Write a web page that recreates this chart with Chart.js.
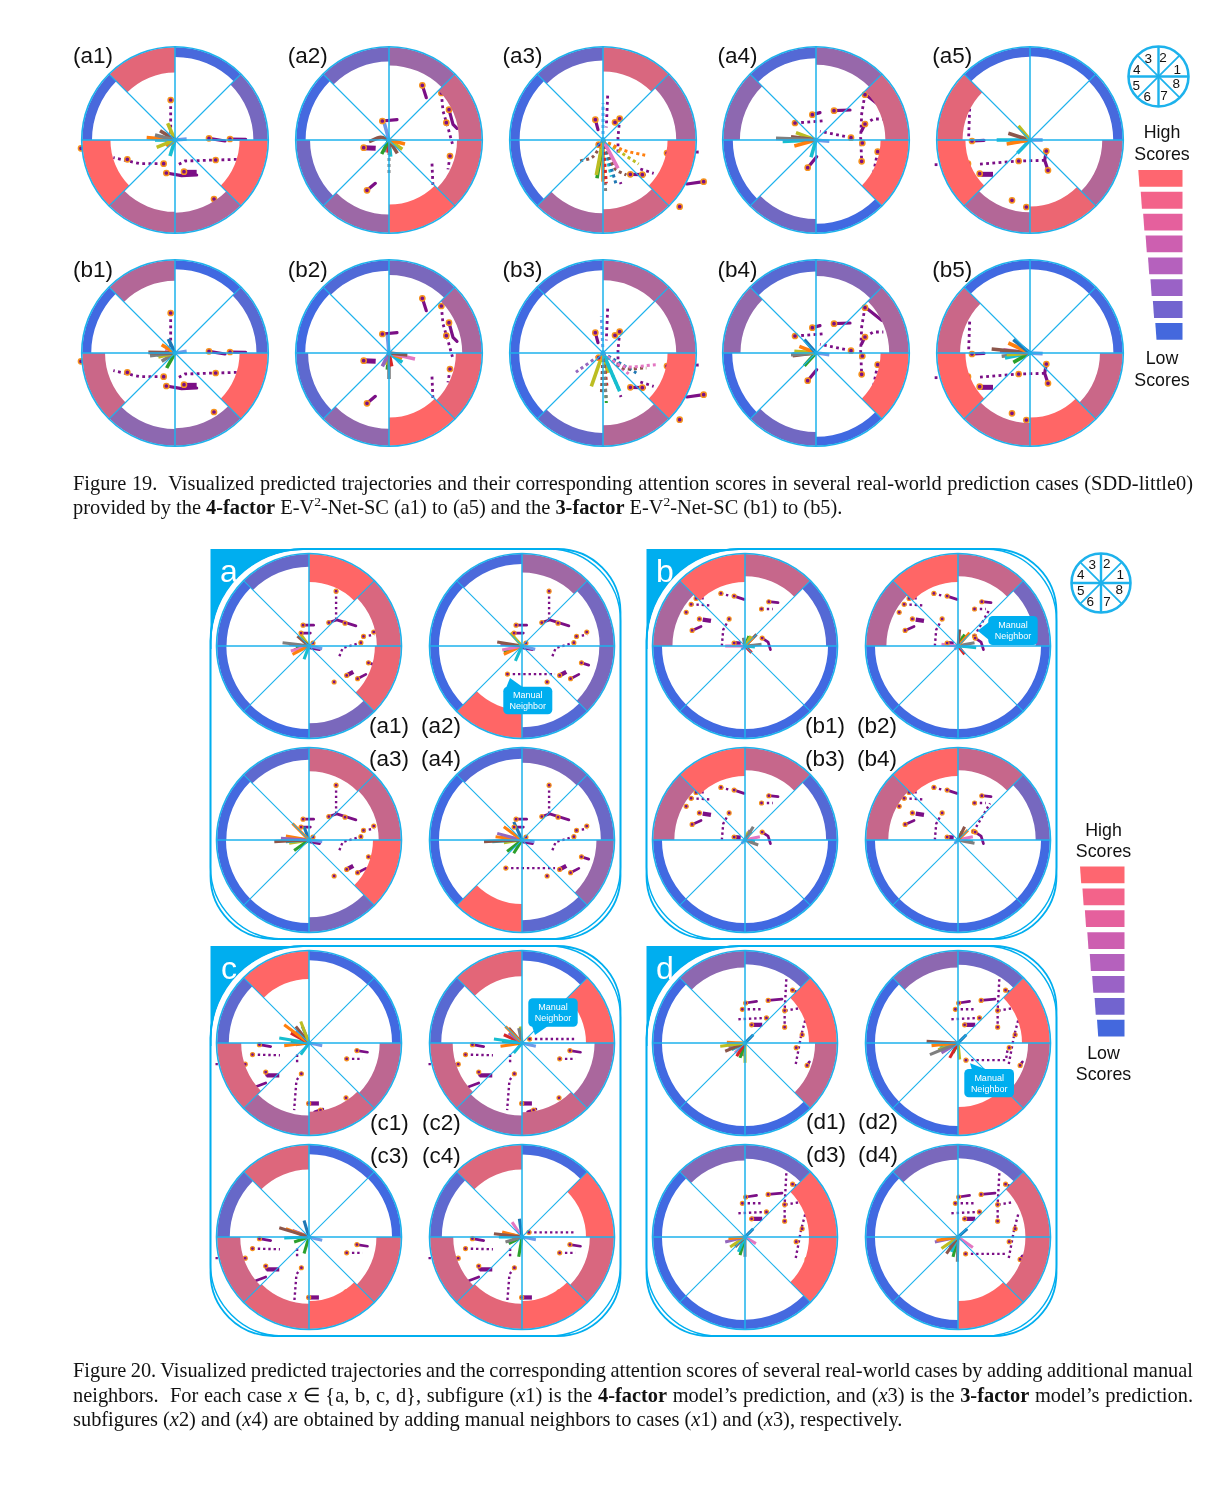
<!DOCTYPE html>
<html><head><meta charset="utf-8">
<script src="https://cdn.jsdelivr.net/npm/chart.js@4"></script>
<style>
html,body{margin:0;padding:0;background:#fff;}
#page{position:relative;width:1231px;height:1494px;overflow:hidden;background:#fff;font-family:"Liberation Sans",Arial,sans-serif;color:#111;}
#page canvas{position:absolute;z-index:2;}
svg{position:absolute;left:0;top:0;}
.t{position:absolute;white-space:nowrap;z-index:4;line-height:1;}
.cap{position:absolute;left:73px;width:1120px;font-family:"Liberation Serif",serif;font-size:20.4px;line-height:24px;white-space:nowrap;color:#111;z-index:4;}
.cap.j{text-align:justify;text-align-last:justify;white-space:normal;word-spacing:-1.2px;}
.cap sup{font-size:13.5px;line-height:0;}
</style></head><body><div id="page"></div>
<script>
/* ---------- sector scores, sectors 1..8 (0 = low, 1 = high) ---------- */
const s19_a1=[.28,.04,.85,.04,1,.62,.58,1];
const s19_a2=[.72,.48,.27,.02,.25,.48,1,.82];
const s19_a3=[.55,.8,.22,.02,.02,.55,.75,1];
const s19_a4=[.75,.45,.1,.4,.03,.25,0,1];
const s19_a5=[.03,0,.03,.85,1,.6,.9,.6];
const s19_b1=[.12,0,.6,0,.72,.4,.45,1];
const s19_b2=[.55,.3,.08,0,.15,.42,1,.88];
const s19_b3=[.55,.58,.05,0,0,.2,.6,1];
const s19_b4=[.55,.35,.12,.43,0,.25,0,1];
const s19_b5=[.02,0,0,.72,1,.72,1,.72];
const s20_a1=[.8,1,.2,.03,.02,0,.3,.9];
const s20_a2=[.28,.5,.05,0,0,1,.1,.3];
const s20_a3=[.7,.75,.15,.02,0,0,.3,1];
const s20_a4=[.22,.3,.1,0,0,1,.15,.45];
const s20_b1=[.1,.7,1,.55,0,0,0,0];
const s20_b2=[.28,.7,1,.6,0,0,0,0];
const s20_b3=[.1,.7,1,.65,0,0,0,0];
const s20_b4=[.28,.7,1,.7,0,0,0,0];
const s20_c1=[0,.02,1,.15,.8,.55,.75,.65];
const s20_c2=[1,.03,.85,.12,.72,.55,.72,.55];
const s20_c3=[0,.02,.82,.2,.75,.85,1,.82];
const s20_c4=[1,.03,.82,.15,.75,.85,1,.8];
const s20_d1=[1,.22,.4,0,0,0,0,.68];
const s20_d2=[1,.25,.4,0,0,0,1,.68];
const s20_d3=[1,.25,.35,0,0,0,.02,1];
const s20_d4=[.82,.22,.3,0,0,0,1,.82];

/* ---------- neighbour trajectories per scene (x right, y down, rim = 280) ---------- */
const n1_dotted=[[[-13,-120],[-13,-12]],[[-34,71],[-105,71],[-185,53]],[[185,58],[122,60],[30,63],[5,76]]];
const n1_solid=[[[102,-5],[150,3]],[[165,-3],[212,-2]],[[-26,99],[20,107],[65,105]]];
const n1_thick=[[[27,97],[65,97]]];
const n1_marks=[[-13,-120],[102,-5],[165,-3],[-34,71],[-143,58],[122,60],[-26,99],[27,95],[117,177],[-282,25]];

const n2_dotted=[[[157,-141],[162,-87],[177,-37],[192,18]],[[183,48],[177,88]],[[129,71],[132,143]]];
const n2_solid=[[[-20,-57],[24,-61]],[[100,-164],[112,-127]],[[180,-91],[192,-47],[204,-35]],[[-66,151],[-41,130]]];
const n2_thick=[[[-76,23],[-40,25]]];
const n2_marks=[[-20,-57],[100,-164],[157,-141],[180,-91],[172,-52],[183,48],[-66,151],[-76,23]];

const n3_dotted=[[[14,-133],[10,-38]],[[50,-64],[45,-8],[45,40]],[[287,36],[270,37]],[[112,87],[152,100]],[[52,127],[54,132]]];
const n3_solid=[[[-23,-61],[-15,-31]],[[302,125],[252,132]],[[82,103],[124,104]]];
const n3_thick=[];
const n3_marks=[[-23,-61],[36,-53],[50,-64],[-13,14],[192,39],[302,125],[230,200],[82,103],[118,104]];

const n4_dotted=[[[-63,-51],[27,-58]],[[105,-7],[12,-26]],[[147,-138],[137,-78],[134,-8],[137,64]],[[147,-48],[172,-63],[202,-63]],[[185,35],[172,102]]];
const n4_solid=[[[-11,-76],[12,-82]],[[54,-88],[102,-90]],[[150,-136],[197,-98]],[[147,-48],[137,-28]],[[-25,83],[2,50]]];
const n4_thick=[];
const n4_marks=[[-11,-76],[-63,-51],[54,-88],[105,-7],[147,-136],[147,-48],[139,9],[137,64],[-25,83],[185,35]];

const n5_dotted=[[[-181,-94],[-184,-9],[-174,3]],[[44,61],[-34,63],[-156,73]],[[-286,74],[-275,74]]];
const n5_solid=[[[-174,3],[-138,1]],[[49,33],[44,61],[54,91]]];
const n5_thick=[[[-151,103],[-111,103]]];
const n5_marks=[[-174,3],[-34,63],[-186,71],[-151,101],[49,33],[54,91],[-54,181],[-11,201]];

const na_dotted=[[[82,-166],[82,-79]],[[92,31],[102,6],[157,-10]],[[165,-29],[197,-34]]];
const na_solid=[[[60,-71],[84,-79],[142,-61]],[[-18,-63],[14,-63]],[[-24,-39],[4,-39]],[[147,99],[172,86]],[[180,51],[202,58]],[[2,6],[32,11]]];
const na_thick=[[[114,89],[134,78]]];
const na_marks=[[82,-166],[60,-71],[109,-69],[-18,-63],[-24,-39],[157,-10],[165,-29],[196,-42],[180,51],[114,89],[147,99],[76,109],[12,-9]];

const nb_dotted=[[[-73,-159],[-43,-151]],[[-163,-126],[-106,-123]],[[-148,-144],[-123,-144]],[[-48,-82],[-66,-49],[-70,-1]],[[50,-112],[84,-112]]];
const nb_solid=[[[-33,-151],[-3,-141]],[[-160,-47],[-133,-59]],[[72,-134],[100,-131]],[[52,-24],[70,-12],[77,11]]];
const nb_thick=[[[-128,-80],[-103,-76]],[[-33,-9],[-13,-7]]];
const nb_marks=[[-73,-159],[-33,-151],[-163,-126],[-148,-144],[-178,-102],[-138,-82],[-160,-47],[-48,-82],[72,-134],[50,-112],[52,-24],[-33,-9]];

const nc_dotted=[[[-171,35],[-88,37]],[[-283,64],[-193,64]],[[-23,93],[-38,113],[-45,203]],[[-36,35],[-36,63]],[[114,48],[162,48]]];
const nc_solid=[[[-150,5],[-116,11]],[[-131,88],[-128,98]],[[-163,133],[-131,121]],[[145,23],[177,28]],[[17,208],[42,200]]];
const nc_thick=[[[-128,98],[-90,98]],[[-1,183],[30,183]]];
const nc_marks=[[-150,5],[-171,35],[-193,64],[-131,88],[-23,93],[145,23],[114,48],[112,166],[-1,183],[35,203]];

const nd_dotted=[[[-8,-102],[48,-102]],[[-20,-72],[65,-76]],[[125,-193],[120,-98],[120,-48]],[[122,-98],[165,-105]],[[182,-68],[170,-23],[153,67]]];
const nd_solid=[[[2,-121],[35,-126]],[[70,-129],[112,-133]],[[144,-160],[160,-153]],[[188,68],[195,57]]];
const nd_thick=[[[20,-55],[52,-55]]];
const nd_marks=[[2,-121],[70,-129],[-8,-102],[65,-76],[20,-55],[120,-98],[120,-48],[144,-160],[173,-25],[155,14],[188,68]];

/* manual neighbours added in the x2 / x4 sub-figures */
const man_a2=[[-44,85],[100,85]];const man_a4=[[-49,85],[100,85]];
const man_b2=[[50,-30],[96,-112]];const man_b4=[[47,-26],[97,-111]];
const man_c2=[[23,-12],[165,-12]];const man_c4=[[21,-14],[160,-14]];
const man_d2=[[24,52],[145,52],[150,20]];const man_d4=[[23,51],[150,51]];

/* ---------- predicted ego fan: [colour, x, y, dotted, midX, midY] ---------- */
const e19_a1=[[7,-60,-15],[5,-45,-28],[8,-22,-50],[8,-55,22],[1,-85,-7],[1,-25,20],[9,-15,48],[10,35,-3],[9,-60,0],[6,-30,5]];
const e19_a2=[[10,-14,-50],[5,-60,5,0,-25,-8],[1,48,12],[8,40,28],[5,25,40],[2,-22,42],[3,-3,38],[7,0,100,1],[9,5,50],[4,-15,35]];
const e19_a3=[[10,0,-110,1],[1,132,47,1,60,30],[8,107,72,1,50,35],[5,-73,64,1,-30,50],[8,-20,105],[2,-18,115],[6,45,85],[5,70,105,1,35,85],[0,40,135,1],[3,10,130,1],[7,8,155,1],[1,0,125],[9,25,110,1]];
const e19_a4=[[7,-120,-5],[5,-75,-10],[8,-60,-22],[1,-65,18],[9,-100,4],[9,-15,52],[10,40,4]];
const e19_a5=[[8,-35,-42],[5,-65,-20],[1,-70,12],[9,-100,0],[9,-38,40],[10,38,0],[7,-60,8]];
const e19_b1=[[0,-20,-42],[1,-40,-25],[5,-80,-2],[7,-75,8],[8,-50,12],[2,-25,45],[7,-40,25],[10,35,-5],[9,-55,6],[6,-30,-8]];
const e19_b2=[[10,-5,-55],[5,55,6],[6,78,18],[1,40,15],[9,40,28],[3,8,40],[4,-20,40],[7,0,78],[8,-10,35],[2,-5,50]];
const e19_b3=[[10,-5,-110,1],[6,160,35,1,60,40],[5,130,45,1,60,45],[0,100,60,1],[6,80,65,1],[4,-85,60,1],[8,-35,100],[5,-5,125,1],[7,10,140,1],[2,10,150,1],[9,50,115],[3,12,100,1],[0,50,115,1],[8,15,60]];
const e19_b4=[[0,-35,-40],[1,-50,-20],[8,-65,-5],[7,-75,5],[5,-70,8],[2,-35,38],[10,40,5],[9,-70,3],[4,-60,0]];
const e19_b5=[[0,-50,-40],[1,-65,-30],[5,-115,-12],[4,-90,-5],[8,-70,5],[2,-50,28],[9,-75,15],[10,38,2],[7,-85,10],[6,-80,-10]];
const e20_a1=[[7,-80,-10],[5,-35,-30],[8,-25,-35],[4,-60,-5],[1,-50,25],[6,-55,15],[10,40,8],[2,-40,5],[3,-45,12],[9,-15,40]];
const e20_a2=[[8,-35,-40],[5,-75,-12],[4,-65,-5],[6,-60,12],[1,-55,25],[2,-55,18],[10,40,10],[3,-30,8],[9,-20,45]];
const e20_a3=[[1,-50,-50],[0,-15,-40],[4,-85,-5],[5,-105,5],[2,-45,32],[9,-70,5],[1,-70,-12],[8,-60,10],[10,40,5],[6,-60,-5]];
const e20_a4=[[0,-25,-55],[1,-55,-40],[4,-75,-20],[1,-80,-10],[5,-115,5],[9,-90,5],[2,-45,35],[2,-25,40],[10,38,5],[8,-55,8]];
const e20_b1=[[8,18,-30],[1,25,-25],[2,12,-30],[7,-5,-25],[5,35,-35],[6,-60,0],[7,50,-5],[9,30,3],[10,-10,10],[3,20,20]];
const e20_b2=[[5,5,-50],[1,35,-40],[2,20,-35],[8,15,-30],[7,50,-10],[6,-50,-5],[9,55,5],[10,-10,10],[3,20,25]];
const e20_b3=[[7,25,-40],[1,20,-25],[8,10,-25],[6,45,-10],[7,40,15],[9,30,5],[10,-10,10],[4,15,-30]];
const e20_b4=[[5,20,-40],[1,30,-30],[2,12,-25],[6,45,-10],[7,50,10],[9,45,5],[10,-10,10]];
const e20_c1=[[8,-25,-65],[5,-40,-50],[1,-75,-55],[0,-20,-50],[3,-55,-30],[4,-40,-35],[9,-90,-15],[2,-55,-5],[1,-75,8],[7,-40,5],[10,40,8],[9,-25,35]];
const e20_c2=[[1,-50,-50],[5,-40,-45],[7,-10,-45],[8,-5,-50],[4,-40,-30],[9,-85,-12],[2,-60,-5],[1,-65,10],[10,42,10],[9,-25,30],[3,-55,-25]];
const e20_c3=[[0,-15,-50],[5,-90,-28],[1,-70,-25],[4,-50,-20],[6,-40,-15],[9,-75,3],[2,-45,15],[2,-15,50],[10,40,10],[8,-30,-10]];
const e20_c4=[[0,-8,-55],[5,-85,-10],[1,-60,-15],[7,-50,15],[4,-50,-10],[2,-10,60],[9,-70,0],[10,42,8],[6,-30,-45],[8,-30,5],[2,-40,20]];
const e20_d1=[[8,-75,10],[5,-60,25],[1,-55,-2],[4,-50,12],[9,-40,20],[3,-25,40],[2,-15,45],[6,-30,30],[8,0,60],[7,-5,40],[0,25,-25]];
const e20_d2=[[5,-95,-5],[1,-80,8],[7,-85,35],[8,-60,20],[9,-55,15],[4,-50,30],[3,-25,45],[8,5,50],[0,25,-25],[2,-15,30]];
const e20_d3=[[1,-50,5],[4,-60,15],[8,-45,30],[5,-30,30],[9,-20,45],[2,-15,55],[7,0,60],[6,33,20],[0,25,-25]];
const e20_d4=[[1,-65,10],[4,-70,15],[8,-50,35],[5,-35,50],[9,-20,45],[7,-2,75],[2,-15,60],[6,45,32],[0,28,-25],[3,-25,30]];

/* ---------- texts and legend ---------- */
const sectorLabels=['1','2','3','4','5','6','7','8'];
const legendColors=['#fe6670','#f3638a','#e5609d','#cd5fb0','#b561bd','#9a62c6','#7264cf','#4468dd'];

/* ---------- styles and layout ---------- */
const CYAN='#1db2ec',PURPLE='#7b0f86',ORANGE='#f6931e';
const FAN=['#1f77b4','#ff7f0e','#2ca02c','#d62728','#9467bd','#8c564b','#e377c2','#7f7f7f','#bcbd22','#17becf','#6f9be8'];
const RANGE=342,RIM=280;
const LOW=[65,105,225],HIGH=[255,102,102];
function scoreColor(t){const c=LOW.map((l,i)=>Math.round(l+(HIGH[i]-l)*t));return `rgb(${c})`;}
function ringWidth(t){return 27+58*t;}

const page=document.getElementById('page');
const ringPlugin={id:'ring',afterDatasetsUpdate(chart){
  chart.data.datasets.forEach((ds,i)=>{
    if(ds.type!=='doughnut')return;
    chart.getDatasetMeta(i).data.forEach((arc,k)=>{
      arc.innerRadius=arc.outerRadius*(1-ringWidth(ds.scores[k])/RIM);
    });
  });
}};

function panel(cx,cy,rPx,scores,scene,ego,manual,lineW){
  const size=Math.round(2*RANGE/RIM*rPx);
  const c=document.createElement('canvas');
  c.width=size;c.height=size;
  c.style.left=Math.round(cx-size/2)+'px';c.style.top=Math.round(cy-size/2)+'px';
  c.style.width=size+'px';c.style.height=size+'px';
  page.appendChild(c);
  const xy=p=>({x:p[0],y:p[1]});
  const base={type:'scatter',weight:0,showLine:true,pointRadius:0,fill:false};
  const ds=[];
  const k=lineW||1;
  const fig20=rPx<93;
  const mr=fig20?2:2.6, mb=fig20?1.2:1.5;
  const f=fig20?.85:1;
  [[[-RIM,0],[RIM,0],1.5],[[0,-RIM],[0,RIM],1.5],[[-198,-198],[198,198],1.1],[[-198,198],[198,-198],1.1]].forEach(s=>{
    ds.push({...base,order:1,data:[xy(s[0]),xy(s[1])],borderColor:CYAN,borderWidth:s[2]*k});
  });
  ds.push({...base,order:1,showLine:false,data:[{x:0,y:0}],pointRadius:rPx,pointBackgroundColor:'rgba(0,0,0,0)',pointBorderColor:CYAN,pointBorderWidth:1.6*k});
  if(scores){
    ds.push({type:'doughnut',order:2,weight:1,data:scores.map(()=>1),scores:scores.slice().reverse(),
      backgroundColor:scores.slice().reverse().map(scoreColor),borderWidth:0,rotation:90,radius:(100*RIM/RANGE)+'%',cutout:'80%'});
  }
  if(scene){
    ds.push({...base,order:3,showLine:false,data:scene.marks.map(xy),pointRadius:mr,pointBackgroundColor:PURPLE,pointBorderColor:ORANGE,pointBorderWidth:mb});
    (manual?[manual]:[]).forEach(m=>ds.push({...base,order:3,showLine:false,data:[xy(m[0])],pointRadius:mr,pointBackgroundColor:PURPLE,pointBorderColor:ORANGE,pointBorderWidth:mb}));
    ego.forEach(e=>{
      const pts=[{x:0,y:0}];
      if(e.length>4)pts.push({x:e[4],y:e[5]});
      pts.push({x:e[1],y:e[2]});
      ds.push({...base,order:4,data:pts,borderColor:FAN[e[0]],borderWidth:e[3]?3:3.6*f,borderDash:e[3]?[3,3]:[],tension:.3,borderCapStyle:'butt'});
    });
    scene.solid.forEach(p=>ds.push({...base,order:5,data:p.map(xy),borderColor:PURPLE,borderWidth:3.2*f,borderCapStyle:'round',borderJoinStyle:'round'}));
    scene.thick.forEach(p=>ds.push({...base,order:5,data:p.map(xy),borderColor:PURPLE,borderWidth:5*f,borderCapStyle:'butt'}));
    scene.dotted.concat(manual?[manual]:[]).forEach(p=>ds.push({...base,order:5,data:p.map(xy),borderColor:PURPLE,borderWidth:2.8*f,borderDash:[2.8*f,3.4*f]}));
  }
  new Chart(c,{type:'scatter',data:{datasets:ds},plugins:[ringPlugin],options:{
    responsive:false,animation:false,events:[],layout:{padding:0,autoPadding:false},
    plugins:{legend:{display:false},tooltip:{enabled:false}},
    scales:{x:{display:false,min:-RANGE,max:RANGE},y:{display:false,min:-RANGE,max:RANGE,reverse:true}}
  }});
}
const scene=(d,s,t,m)=>({dotted:d,solid:s,thick:t,marks:m});
const S1=scene(n1_dotted,n1_solid,n1_thick,n1_marks),S2=scene(n2_dotted,n2_solid,n2_thick,n2_marks),S3=scene(n3_dotted,n3_solid,n3_thick,n3_marks),S4=scene(n4_dotted,n4_solid,n4_thick,n4_marks),S5=scene(n5_dotted,n5_solid,n5_thick,n5_marks);
const SA=scene(na_dotted,na_solid,na_thick,na_marks),SB=scene(nb_dotted,nb_solid,nb_thick,nb_marks),SC=scene(nc_dotted,nc_solid,nc_thick,nc_marks),SD=scene(nd_dotted,nd_solid,nd_thick,nd_marks);

/* frames below the charts */
const NS='http://www.w3.org/2000/svg';
function svgLayer(z){const s=document.createElementNS(NS,'svg');s.setAttribute('width',1231);s.setAttribute('height',1494);s.style.zIndex=z;page.appendChild(s);return s;}
function add(s,tag,attrs){const e=document.createElementNS(NS,tag);for(const k in attrs)e.setAttribute(k,attrs[k]);s.appendChild(e);return e;}
const under=svgLayer(1),over=svgLayer(3);
function rr(x,y,w,h,tl,o){const r=o;return `M${x+tl},${y}H${x+w-r}A${r},${r} 0 0 1 ${x+w},${y+r}V${y+h-r}A${r},${r} 0 0 1 ${x+w-r},${y+h}H${x+r}A${r},${r} 0 0 1 ${x},${y+h-r}V${y+tl}A${tl},${tl} 0 0 1 ${x+tl},${y}Z`;}
[[210.5,549,410,390,'a'],[646.5,549,410,390,'b'],[210.5,946,410,390,'c'],[646.5,946,410,390,'d']].forEach(f=>{
  const [x,y,w,h,l]=f;
  add(under,'rect',{x:x,y:y,width:100,height:100,fill:'#00aeef'});
  add(under,'path',{d:rr(x+1,y+1,w-2,h-2,92,68),fill:'#fff',stroke:'none'});
  add(under,'path',{d:rr(x,y,w,h,92,63),fill:'none',stroke:'#00aeef','stroke-width':1.8});
  add(under,'path',{d:rr(x,y,w,h,92,72),fill:'none',stroke:'#00aeef','stroke-width':1.4});
  text(x+18.5,y+22,l,32,'#fff','center');
});
function text(x,y,str,size,color,align){
  const d=document.createElement('div');d.className='t';d.textContent=str;
  d.style.fontSize=size+'px';d.style.left=x+'px';d.style.top=y+'px';if(color)d.style.color=color;
  d.style.transform=align==='center'?'translate(-50%,-50%)':'translate(0,-50%)';
  page.appendChild(d);
}
/* Figure 19 */
const ROW19=[139.5,353];const COL19=[175,389,602.7,816,1030];
[[s19_a1,S1,e19_a1],[s19_a2,S2,e19_a2],[s19_a3,S3,e19_a3],[s19_a4,S4,e19_a4],[s19_a5,S5,e19_a5]].forEach((p,i)=>panel(COL19[i],ROW19[0],93.3,p[0],p[1],p[2]));
[[s19_b1,S1,e19_b1],[s19_b2,S2,e19_b2],[s19_b3,S3,e19_b3],[s19_b4,S4,e19_b4],[s19_b5,S5,e19_b5]].forEach((p,i)=>panel(COL19[i],ROW19[1],93.3,p[0],p[1],p[2]));
['1','2','3','4','5'].forEach((n,i)=>{text(73+214.8*i,55.5,'(a'+n+')',22.5);text(73+214.8*i,270,'(b'+n+')',22.5);});
/* Figure 20 */
const P20=[
 [309.3,646.3,s20_a1,SA,e20_a1,null],[521.7,646.3,s20_a2,SA,e20_a2,man_a2],[309.3,840.3,s20_a3,SA,e20_a3,null],[521.7,840.3,s20_a4,SA,e20_a4,man_a4],
 [744.5,646.3,s20_b1,SB,e20_b1,null],[957.7,646.3,s20_b2,SB,e20_b2,man_b2],[745,840.3,s20_b3,SB,e20_b3,null],[957.7,840.3,s20_b4,SB,e20_b4,man_b4],
 [309.3,1042.5,s20_c1,SC,e20_c1,null],[521.7,1042.5,s20_c2,SC,e20_c2,man_c2],[309.3,1236.5,s20_c3,SC,e20_c3,null],[521.7,1236.5,s20_c4,SC,e20_c4,man_c4],
 [745,1042.7,s20_d1,SD,e20_d1,null],[958,1042.7,s20_d2,SD,e20_d2,man_d2],[745.3,1236.7,s20_d3,SD,e20_d3,null],[958,1236.7,s20_d4,SD,e20_d4,man_d4]];
P20.forEach(p=>panel(p[0],p[1],92.5,p[2],p[3],p[4],p[5]));
[['a',369,726],['b',805,726],['c',370,1123],['d',806,1122]].forEach(g=>{
  text(g[1],g[2],'('+g[0]+'1)',22.5);text(g[1]+52,g[2],'('+g[0]+'2)',22.5);
  text(g[1],g[2]+33,'('+g[0]+'3)',22.5);text(g[1]+52,g[2]+33,'('+g[0]+'4)',22.5);
});
/* key wheels */
panel(1158.3,76.3,30,null,null,null,null,1.6);
panel(1101.3,583,29.5,null,null,null,null,1.6);
const KEY19=[[1177.3,69.7],[1163,57.7],[1148.3,59],[1136.7,70],[1136.3,85.7],[1147.3,96.7],[1164,96],[1176.3,84.3]];
const KEY20=[[1120.3,575],[1106.7,564],[1092.3,565],[1080.7,575],[1080.7,591],[1090.3,602],[1107,602],[1119.3,590]];
sectorLabels.forEach((l,i)=>{text(KEY19[i][0],KEY19[i][1],l,13.5,null,'center');text(KEY20[i][0],KEY20[i][1],l,13.5,null,'center');});
/* score legends */
function scale(right,top,left,h,step){
  legendColors.forEach((col,i)=>{
    const y=top+i*step,x0=left+i*2.43;
    add(under,'polygon',{points:`${x0},${y} ${right},${y} ${right},${y+h} ${x0+1.2},${y+h}`,fill:col});
  });
}
scale(1182.5,170,1138.3,16.8,21.85);
scale(1124.5,866.5,1080,16.8,21.9);
[[1162,133,'High'],[1162,155,'Scores'],[1162,359,'Low'],[1162,381,'Scores'],[1103.5,831,'High'],[1103.5,852,'Scores'],[1103.5,1054,'Low'],[1103.5,1075,'Scores']].forEach(t=>text(t[0],t[1],t[2],17.8,null,'center'));
/* callouts */
function callout(x,y,w,h,tip,base){
  add(over,'rect',{x,y,width:w,height:h,rx:4.5,fill:'#00aeef'});
  add(over,'polygon',{points:`${tip[0]},${tip[1]} ${base[0]},${base[1]} ${base[2]},${base[3]}`,fill:'#00aeef'});
  text(x+w/2,y+h/2-5.5,'Manual',9,'#fff','center');text(x+w/2,y+h/2+5.5,'Neighbor',9,'#fff','center');
}
callout(503.3,686.7,49,27.6,[510,678],[506,688,524,688]);
callout(988.3,616,49.4,29,[977.7,630.7],[989,622,989,640]);
callout(528.3,998.3,49.4,28.4,[535,1035],[532,1026,548,1026]);
callout(964.3,1069,49.7,28.3,[970,1063.3],[972,1070,988,1070]);
/* captions */
function cap(y,html,just){const d=document.createElement('div');d.className='cap'+(just?' j':'');d.style.top=(y-12)+'px';d.innerHTML=html;page.appendChild(d);}
cap(483,'Figure 19.&nbsp; Visualized predicted trajectories and their corresponding attention scores in several real-world prediction cases (SDD-little0)',true);
cap(507,'provided by the <b>4-factor</b> E-V<sup>2</sup>-Net-SC (a1) to (a5) and the <b>3-factor</b> E-V<sup>2</sup>-Net-SC (b1) to (b5).');
cap(1370,'Figure 20. Visualized predicted trajectories and the corresponding attention scores of several real-world cases by adding additional manual',true);
cap(1395,'neighbors.&nbsp; For each case <i>x</i> ∈ {a, b, c, d}, subfigure (<i>x</i>1) is the <b>4-factor</b> model’s prediction, and (<i>x</i>3) is the <b>3-factor</b> model’s prediction.',true);
cap(1419,'subfigures (<i>x</i>2) and (<i>x</i>4) are obtained by adding manual neighbors to cases (<i>x</i>1) and (<i>x</i>3), respectively.');
</script></body></html>
